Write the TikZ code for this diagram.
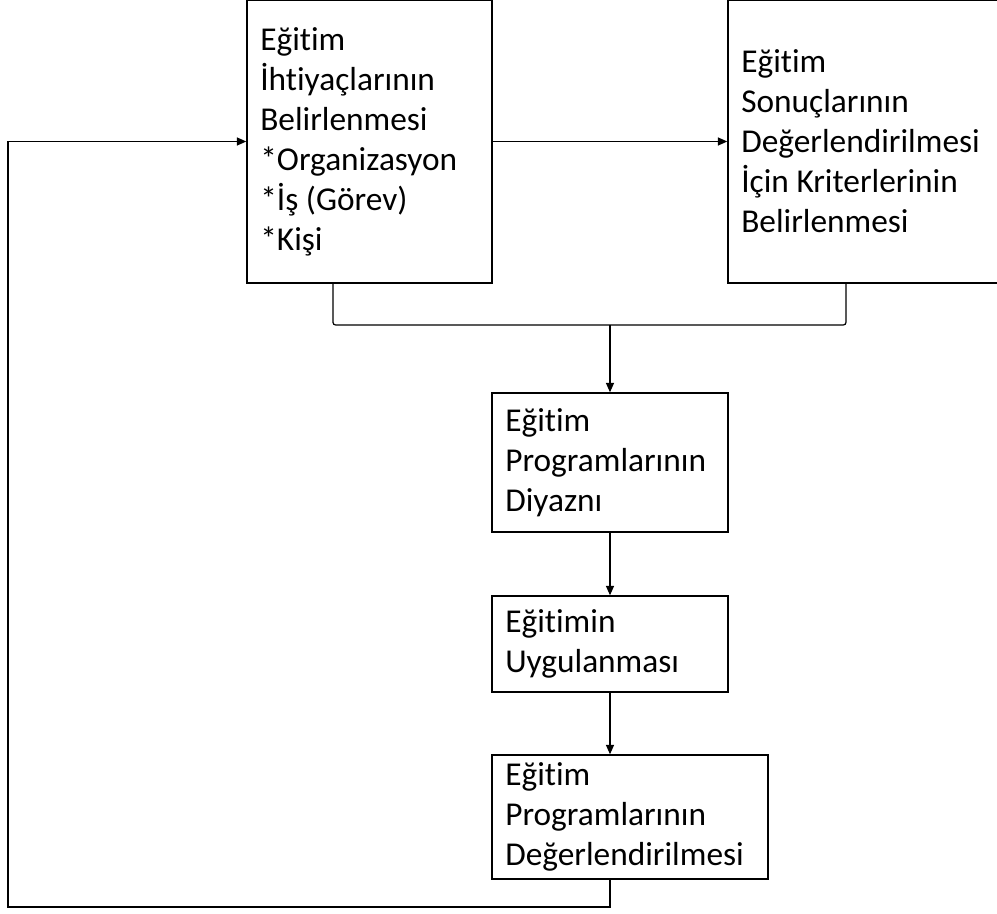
\documentclass[tikz,border=0pt]{standalone}
\usepackage{fontspec}
\setmainfont{Carlito}[Ligatures = NoCommon]
\usetikzlibrary{arrows.meta}
\begin{document}
\begin{tikzpicture}[x = 0.75pt, y = -0.75pt,
        kutu/.style = {draw, line width = 1.1pt, align = flush left, inner xsep = 10pt, inner ysep = 0pt,
            font = \fontsize{25}{30}\selectfont},
        ok/.style = {line width = 0.9pt, -{Triangle[length = 7pt, width = 6pt]}}]
    \useasboundingbox (0, 0) rectangle (997, 914);
    \node [kutu, minimum width = 183.75pt, minimum height = 212.5pt, text width = 163.75pt] (ihtiyac) at (369.5, 141.5)
        {Eğitim\\İhtiyaçlarının\\Belirlenmesi\\{}*Organizasyon\\{}*İş (Görev)\\{}*Kişi};
    \node [kutu, minimum width = 211.5pt, minimum height = 212.5pt, text width = 191.5pt] (kriter) at (869, 141.5)
        {Eğitim\\Sonuçlarının\\Değerlendirilmesi\\İçin Kriterlerinin\\Belirlenmesi};
    \node [kutu, minimum width = 177pt, minimum height = 104.25pt, text width = 157pt] (diyazn) at (610, 462.5)
        {Eğitim\\Programlarının\\Diyaznı};
    \node [kutu, minimum width = 177pt, minimum height = 72pt, text width = 157pt] (uygulama) at (610, 644)
        {Eğitimin\\Uygulanması};
    \node [kutu, minimum width = 207pt, minimum height = 93pt, text width = 187pt] (degerlendirme) at (630, 817)
        {Eğitim\\Programlarının\\Değerlendirilmesi};
    \coordinate (birlesim) at (610, 325);
    \coordinate (donus) at (8, 907);
    \draw [ok] (ihtiyac.east) -- (kriter.west);
    \draw [line width = 0.9pt, rounded corners = 2pt] ([xshift = -27.4pt]ihtiyac.south) |- (birlesim) -| ([xshift = -17.25pt]kriter.south);
    \draw [ok] (birlesim) -- (diyazn.north);
    \draw [ok] (diyazn.south) -- (uygulama.north);
    \draw [ok] (uygulama.south) -- (uygulama.south |- degerlendirme.north);
    \draw [ok] (degerlendirme.south -| diyazn.south) |- (donus) |- (ihtiyac.west);
\end{tikzpicture}
\end{document}
